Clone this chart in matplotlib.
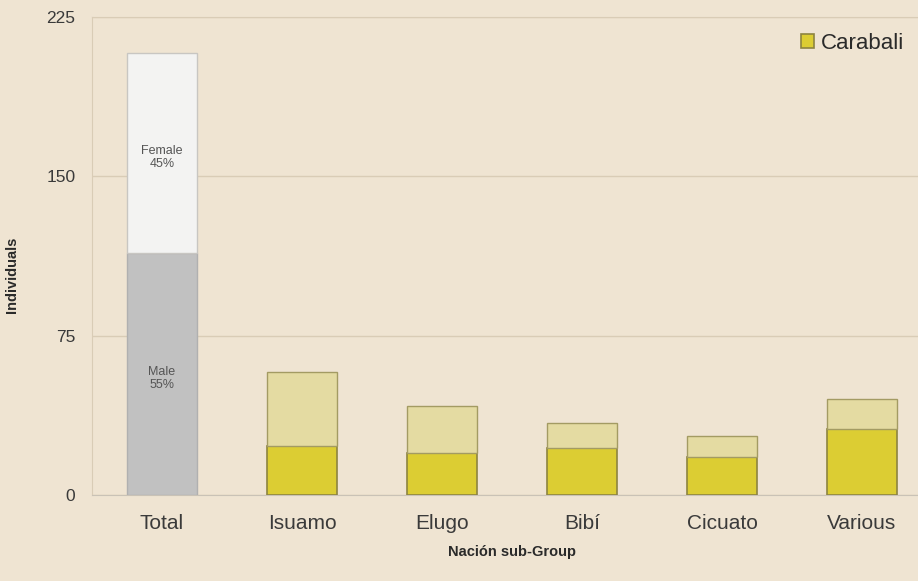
import numpy as np
import matplotlib.pyplot as plt

plt.rcParams['font.family'] = ['Liberation Sans', 'DejaVu Sans']

groups = ["Total", "Isuamo", "Elugo", "Bibí", "Cicuato", "Various"]
total_male = 114
total_female = 94
carabali_low = [23, 20, 22, 18, 31]
carabali_high = [35, 22, 12, 10, 14]
yticks = [0, 75, 150, 225]

bg = "#efe4d2"
grid_c = "#d9ccb6"
text_c = "#3a3a3a"

fig = plt.figure(figsize=(9.18, 5.81), dpi=100, facecolor=bg)
ax = fig.add_axes([92 / 918, 86 / 581, 840 / 918, 478 / 581])
ax.set_facecolor(bg)

x = np.arange(len(groups))
w = 0.5

# stacked total bar: male below, female above
ax.bar(x[0], total_male, w, color="#c1c1c1", edgecolor="#b0b0b0", linewidth=1, zorder=3)
ax.bar(x[0], total_female, w, bottom=total_male, color="#f3f3f2",
       edgecolor="#c8c6c2", linewidth=1, zorder=3)
total = total_male + total_female
ax.text(x[0], total_male + total_female / 2 - 2, "Female\n%d%%" % round(100 * total_female / total),
        ha="center", va="center", fontsize=9, color="#555555", linespacing=1.1, zorder=4)
ax.text(x[0], total_male / 2 - 2, "Male\n%d%%" % round(100 * total_male / total),
        ha="center", va="center", fontsize=9, color="#555555", linespacing=1.1, zorder=4)

# sub-group bars
ax.bar(x[1:], carabali_low, w, color="#dccd33", edgecolor="#8d8440", linewidth=1.2,
       zorder=3, label="Carabali")
ax.bar(x[1:], carabali_high, w, bottom=carabali_low, color="#e4dba2",
       edgecolor="#a39b63", linewidth=1, zorder=3)

ax.set_ylim(0, 225)
ax.set_xlim(-0.5, 5.5)
ax.set_yticks(yticks)
ax.set_xticks(x)
ax.set_xticklabels(groups, fontsize=15, color=text_c)
ax.tick_params(axis="y", labelsize=12.5, colors=text_c, length=0, pad=12)
ax.tick_params(axis="x", length=0, pad=14)
ax.yaxis.grid(True, color=grid_c, linewidth=1, zorder=0)

ax.spines["right"].set_visible(False)
ax.spines["left"].set_color(grid_c)
ax.spines["top"].set_color(grid_c)
ax.spines["bottom"].set_color("#c9c2b6")

ax.set_ylabel("Individuals", fontsize=10.5, fontweight="bold", color="#2a2a2a")
ax.yaxis.set_label_coords(-0.087, 0.46)
ax.set_xlabel("Nación sub-Group", fontsize=10.5, fontweight="bold", color="#2a2a2a",
              labelpad=8)

ax.legend(loc="upper left", bbox_to_anchor=(0.825, 1.0), frameon=False,
          fontsize=16, handlelength=0.6, handleheight=0.6, handletextpad=0.3,
          borderaxespad=0.3, labelcolor="#2a2a2a")

fig.savefig("out.png", dpi=100, facecolor=bg)
